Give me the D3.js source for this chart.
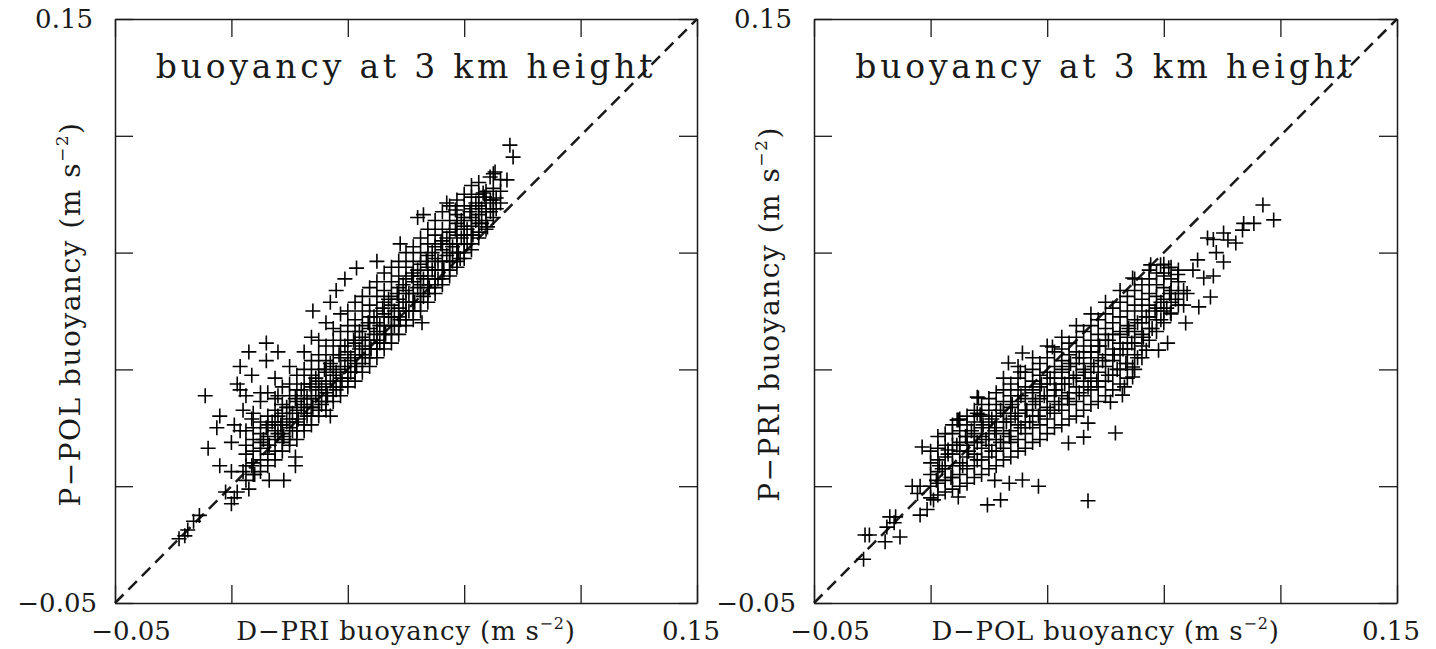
<!DOCTYPE html>
<html>
<head>
<meta charset="utf-8">
<script src="https://cdn.jsdelivr.net/npm/d3@7/dist/d3.min.js"></script>
<style>
  html, body { margin: 0; padding: 0; background: #fff; }
  svg { display: block; }
  text { font-family: "DejaVu Serif", serif; fill: #1a1a1a; }
</style>
</head>
<body>
<svg id="chart" width="1436" height="649"></svg>
<script>
// ---------------- data ----------------
const domainMin = -0.05, domainMax = 0.15;
const tickValues = [-0.05, -0.01, 0.03, 0.07, 0.11, 0.15];
const endTickLabels = ["\u22120.05", "0.15"];
const titleText = "buoyancy at 3 km height";
const xLabels = ["D\u2212PRI buoyancy (m s", "D\u2212POL buoyancy (m s"];
const yLabels = ["P\u2212POL buoyancy (m s", "P\u2212PRI buoyancy (m s"];
const unitExponent = "\u22122";

// Left panel: D-PRI (x) vs P-POL (y)
const leftSparse = [
  [-0.028,-0.028],[-0.026,-0.027],[-0.025,-0.025],[-0.023,-0.022],[-0.021,-0.020],[-0.019,0.021],
  [-0.018,0.003],[-0.015,0.010],[-0.014,0.014],[-0.014,-0.003],[-0.012,-0.012],[-0.010,-0.016],
  [-0.009,-0.014],[-0.008,-0.012],[-0.010,-0.005],[-0.010,0.005],[-0.009,0.011],[-0.008,0.025],
  [-0.007,0.023],[-0.007,0.031],[-0.007,0.009],[-0.006,0.016],[-0.006,-0.005],[-0.005,0.021],
  [-0.004,0.036],[-0.004,-0.011],[-0.003,0.028],[-0.003,-0.003],[-0.003,0.013],[-0.002,-0.006],
  [0.000,0.022],[0.002,0.039],[0.002,0.033],[0.006,0.036],[0.006,0.021],[0.003,-0.008],
  [0.008,-0.008],[0.012,0.000],[0.012,-0.003],[0.024,0.014],[0.018,0.050],[0.024,0.053],
  [0.026,0.057],[0.029,0.061],[0.033,0.0647],[0.040,0.067],[0.048,0.073],[0.054,0.082],[0.056,0.083]
];
const leftBand = [
  [-0.005,[-0.008,-0.003,0.001,0.004,0.009]],
  [-0.0025,[-0.006,-0.002,0.002,0.006,0.010,0.015]],
  [0.000,[-0.005,-0.001,0.003,0.005,0.008,0.012,0.019]],
  [0.0025,[-0.003,0.001,0.004,0.007,0.011,0.014,0.022]],
  [0.005,[-0.001,0.002,0.006,0.009,0.012,0.016,0.020,0.027]],
  [0.0075,[0.002,0.005,0.008,0.011,0.015,0.018,0.024]],
  [0.010,[0.004,0.006,0.010,0.013,0.017,0.021,0.025,0.031]],
  [0.0125,[0.006,0.009,0.012,0.016,0.019,0.023,0.028]],
  [0.015,[0.009,0.011,0.015,0.018,0.021,0.025,0.030,0.036]],
  [0.0175,[0.011,0.014,0.017,0.020,0.024,0.028,0.033,0.041]],
  [0.020,[0.014,0.016,0.019,0.023,0.026,0.030,0.035,0.040]],
  [0.0225,[0.016,0.019,0.022,0.025,0.029,0.033,0.038,0.046]],
  [0.025,[0.019,0.021,0.024,0.028,0.031,0.035,0.040,0.044]],
  [0.0275,[0.021,0.024,0.027,0.030,0.034,0.038,0.043,0.049]],
  [0.030,[0.024,0.027,0.029,0.033,0.036,0.040,0.045,0.050]],
  [0.0325,[0.026,0.029,0.032,0.035,0.039,0.043,0.047,0.053]],
  [0.035,[0.029,0.032,0.035,0.038,0.041,0.045,0.050,0.055]],
  [0.0375,[0.031,0.034,0.037,0.040,0.044,0.048,0.052,0.058]],
  [0.040,[0.034,0.037,0.040,0.043,0.046,0.050,0.055,0.060]],
  [0.0425,[0.037,0.039,0.042,0.045,0.049,0.053,0.057,0.063]],
  [0.045,[0.039,0.042,0.045,0.048,0.052,0.055,0.060,0.065]],
  [0.0475,[0.042,0.045,0.048,0.051,0.054,0.058,0.062,0.067]],
  [0.050,[0.045,0.047,0.050,0.053,0.057,0.061,0.065,0.070]],
  [0.0525,[0.047,0.050,0.053,0.056,0.060,0.063,0.067,0.072]],
  [0.055,[0.050,0.053,0.056,0.059,0.062,0.066,0.070,0.075]],
  [0.0575,[0.053,0.056,0.059,0.062,0.065,0.069,0.073,0.078]],
  [0.060,[0.056,0.058,0.061,0.064,0.068,0.072,0.076,0.081]],
  [0.0625,[0.059,0.061,0.064,0.067,0.071,0.074,0.078,0.084]],
  [0.065,[0.062,0.064,0.067,0.070,0.073,0.077,0.081,0.086]],
  [0.0675,[0.065,0.067,0.070,0.073,0.076,0.080,0.083,0.088]],
  [0.070,[0.068,0.070,0.073,0.076,0.079,0.082,0.086,0.090]],
  [0.0725,[0.071,0.073,0.076,0.079,0.082,0.085,0.089,0.093]],
  [0.075,[0.075,0.077,0.080,0.083,0.086,0.090,0.094]],
  [0.0775,[0.078,0.081,0.084,0.087,0.091]],
  [0.080,[0.082,0.085,0.088,0.092,0.097]],
  [0.0825,[0.087,0.091,0.095]]
];
const leftCore = [
  [0.001,0.006],[0.002,0.010],[0.003,0.004],[0.004,0.012],[0.006,0.008],[0.006,0.014],[0.007,0.011],
  [0.008,0.007],[0.009,0.017],[0.009,0.012],[0.011,0.009],[0.011,0.015],[0.012,0.020],[0.013,0.013],
  [0.014,0.017],[0.014,0.023],[0.016,0.014],[0.016,0.020],[0.017,0.025],[0.018,0.017],[0.019,0.021],
  [0.019,0.027],[0.021,0.018],[0.021,0.024],[0.022,0.030],[0.023,0.021],[0.024,0.026],[0.024,0.032],
  [0.026,0.023],[0.026,0.029],[0.027,0.035],[0.028,0.026],[0.029,0.031],[0.029,0.038],[0.031,0.029],
  [0.031,0.034],[0.032,0.040],[0.033,0.031],[0.034,0.037],[0.034,0.043],[0.036,0.034],[0.036,0.040],
  [0.037,0.046],[0.038,0.037],[0.039,0.042],[0.039,0.048],[0.041,0.039],[0.041,0.045],[0.042,0.051],
  [0.043,0.042],[0.044,0.048],[0.044,0.054],[0.046,0.045],[0.046,0.050],[0.047,0.056],[0.048,0.047],
  [0.049,0.053],[0.049,0.059],[0.051,0.050],[0.051,0.056],[0.052,0.062],[0.053,0.053],[0.054,0.058],
  [0.054,0.064],[0.056,0.055],[0.056,0.061],[0.057,0.067],[0.058,0.058],[0.059,0.064],[0.059,0.070],
  [0.061,0.061],[0.061,0.067],[0.062,0.073],[0.063,0.064],[0.064,0.069],[0.064,0.075],[0.066,0.067],
  [0.066,0.072],[0.067,0.078],[0.068,0.070],[0.069,0.075],[0.069,0.081],[0.071,0.073],[0.071,0.078],
  [0.072,0.084],[0.073,0.076],[0.074,0.081],[0.074,0.087],[0.076,0.080],[0.076,0.085],[0.077,0.089],
  [0.079,0.084],[0.079,0.088]
];
const leftTail = [
  [0.0857,0.1068],[0.0868,0.1027],[0.0806,0.0976],[0.0789,0.0959],[0.0847,0.0949],[0.081,0.0887],
  [0.081,0.085],[0.078,0.0788],[0.0686,0.068],[0.0555,0.046],[0.064,0.087],[0.067,0.0846],[0.0765,0.0904]
];

// Right panel: D-POL (x) vs P-PRI (y)
const rightSparse = [
  [-0.033,-0.035],[-0.0325,-0.0267],[-0.031,-0.0267],[-0.0256,-0.029],[-0.0205,-0.0274],[-0.025,-0.024],
  [-0.024,-0.0205],[-0.022,-0.0205],[-0.0225,-0.0225],[-0.0136,-0.0199],[-0.0112,-0.018],[-0.0163,-0.010],
  [-0.0136,-0.010],[-0.0145,-0.0125],[-0.009,-0.0147],[-0.008,-0.008],[-0.0129,0.0034],[-0.0009,0.0127],
  [0.006,0.0205],[0.006,0.015],[0.0095,-0.0164],[0.014,-0.0147],[-0.0005,-0.0137],[-0.004,0.0024],
  [-0.007,-0.003],[0.0215,-0.0079],[0.027,-0.010],[0.017,-0.009],[0.012,-0.008],[0.044,-0.015]
];
const rightBand = [
  [-0.010,[-0.014,-0.010,-0.006,-0.002,0.002]],
  [-0.0075,[-0.013,-0.009,-0.005,-0.001,0.003,0.007]],
  [-0.005,[-0.012,-0.008,-0.004,0.000,0.004,0.008]],
  [-0.0025,[-0.011,-0.007,-0.003,0.001,0.004,0.008,0.011]],
  [0.000,[-0.010,-0.006,-0.002,0.002,0.005,0.009,0.013]],
  [0.0025,[-0.009,-0.004,0.000,0.004,0.007,0.011,0.014]],
  [0.005,[-0.007,-0.003,0.001,0.005,0.008,0.012,0.016]],
  [0.0075,[-0.006,-0.001,0.003,0.007,0.010,0.014,0.018]],
  [0.010,[-0.004,0.000,0.004,0.008,0.012,0.016,0.020]],
  [0.0125,[-0.003,0.002,0.006,0.010,0.014,0.018,0.022]],
  [0.015,[-0.001,0.003,0.008,0.012,0.015,0.019,0.023,0.027]],
  [0.0175,[0.000,0.005,0.009,0.013,0.017,0.021,0.025]],
  [0.020,[0.002,0.006,0.011,0.015,0.019,0.023,0.027,0.031]],
  [0.0225,[0.003,0.008,0.012,0.016,0.020,0.024,0.029]],
  [0.025,[0.005,0.010,0.014,0.018,0.022,0.026,0.030,0.034]],
  [0.0275,[0.006,0.011,0.016,0.020,0.024,0.028,0.032]],
  [0.030,[0.008,0.013,0.017,0.021,0.025,0.029,0.034,0.038]],
  [0.0325,[0.010,0.015,0.019,0.023,0.027,0.031,0.036]],
  [0.035,[0.011,0.016,0.021,0.025,0.029,0.033,0.037,0.041]],
  [0.0375,[0.013,0.018,0.022,0.027,0.031,0.035,0.039]],
  [0.040,[0.014,0.019,0.024,0.028,0.032,0.036,0.041,0.045]],
  [0.0425,[0.016,0.021,0.026,0.030,0.034,0.038,0.043]],
  [0.045,[0.018,0.023,0.027,0.032,0.036,0.040,0.045,0.049]],
  [0.0475,[0.019,0.024,0.029,0.034,0.038,0.042,0.047]],
  [0.050,[0.021,0.026,0.031,0.035,0.040,0.044,0.049,0.053]],
  [0.0525,[0.023,0.028,0.033,0.037,0.042,0.046,0.051]],
  [0.055,[0.025,0.030,0.035,0.039,0.043,0.048,0.053,0.057]],
  [0.0575,[0.027,0.032,0.037,0.041,0.045,0.050,0.055]],
  [0.060,[0.030,0.035,0.039,0.043,0.047,0.052,0.057,0.061]],
  [0.0625,[0.034,0.038,0.042,0.046,0.050,0.054,0.059]],
  [0.065,[0.040,0.044,0.048,0.052,0.056,0.061,0.064]],
  [0.0675,[0.043,0.047,0.051,0.055,0.059,0.063]],
  [0.070,[0.046,0.050,0.054,0.058,0.062,0.066]],
  [0.0725,[0.049,0.053,0.057,0.061,0.065]],
  [0.075,[0.052,0.056,0.060,0.064]]
];
const rightCore = [
  [-0.006,-0.004],[-0.004,0.001],[-0.003,-0.007],[-0.001,0.004],[0.001,-0.003],[0.002,0.007],[0.003,0.002],
  [0.004,0.009],[0.006,0.005],[0.006,-0.001],[0.008,0.011],[0.009,0.006],[0.011,0.002],[0.011,0.013],
  [0.012,0.009],[0.014,0.005],[0.014,0.016],[0.016,0.012],[0.017,0.007],[0.018,0.018],[0.019,0.014],
  [0.021,0.010],[0.021,0.021],[0.023,0.016],[0.024,0.012],[0.025,0.023],[0.026,0.019],[0.027,0.014],
  [0.028,0.025],[0.029,0.021],[0.031,0.016],[0.031,0.027],[0.033,0.023],[0.034,0.018],[0.035,0.030],
  [0.036,0.025],[0.037,0.020],[0.038,0.032],[0.039,0.027],[0.041,0.022],[0.041,0.034],[0.043,0.029],
  [0.044,0.024],[0.045,0.036],[0.046,0.031],[0.047,0.026],[0.048,0.038],[0.049,0.033],[0.051,0.028],
  [0.051,0.040],[0.053,0.035],[0.054,0.030],[0.055,0.042],[0.056,0.037],[0.057,0.032],[0.058,0.044],
  [0.059,0.039],[0.061,0.034],[0.061,0.046],[0.063,0.041],[0.064,0.048],[0.066,0.044],[0.067,0.050],
  [0.069,0.047],[0.069,0.053],[0.071,0.051],[0.072,0.056],[0.074,0.054]
];
const rightTail = [
  [0.104,0.0863],[0.1077,0.0812],[0.1009,0.080],[0.0974,0.080],[0.097,0.0777],[0.0905,0.0767],
  [0.092,0.0743],[0.085,0.075],[0.087,0.0745],[0.0947,0.0733],[0.0905,0.0668],[0.088,0.070],
  [0.0816,0.0675],[0.080,0.064],[0.0837,0.0613],[0.087,0.062],[0.086,0.0548],[0.082,0.0514],
  [0.0768,0.057],[0.078,0.056],[0.0768,0.052],[0.0723,0.0493],[0.0775,0.0459],[0.0689,0.0658],
  [0.0655,0.0658],[0.0717,0.0648],[0.070,0.063],[0.0748,0.0625],[0.0593,0.0613],[0.0713,0.039],
  [0.0682,0.0366],[0.064,0.0366],[0.0593,0.0308],[0.0593,0.0274],[0.0565,0.024],[0.0558,0.0212],
  [0.0517,0.0188],[0.0534,0.0082],[0.044,0.0116],[0.0425,0.0068],[0.0373,0.0048],[0.0318,0.0377],
  [0.0215,0.0356],[0.0167,0.0322],[0.0208,0.0291],[0.0064,0.0202],[0.007,0.0145],[-0.0005,0.0127]
];

// ---------------- drawing ----------------
function flattenBand(band) {
  const out = [];
  band.forEach(([x, ys]) => ys.forEach(y => out.push([x, y])));
  return out;
}
const leftPoints = leftSparse.concat(flattenBand(leftBand), leftCore, leftTail);
const rightPoints = rightSparse.concat(flattenBand(rightBand), rightCore, rightTail);

const panels = [
  { left: 115, right: 697, points: leftPoints, xLabel: xLabels[0], yLabel: yLabels[0] },
  { left: 814, right: 1397, points: rightPoints, xLabel: xLabels[1], yLabel: yLabels[1] }
];
const plotTop = 19, plotBottom = 603;
const svg = d3.select("#chart");
const ink = "#1a1a1a";

panels.forEach(p => {
  const x = d3.scaleLinear().domain([domainMin, domainMax]).range([p.left, p.right]);
  const y = d3.scaleLinear().domain([domainMin, domainMax]).range([plotBottom, plotTop]);
  const g = svg.append("g");

  const styleAxis = sel => {
    sel.selectAll("path.domain").attr("stroke", ink).attr("stroke-width", 1.5);
    sel.selectAll(".tick line").attr("stroke", ink).attr("stroke-width", 1.3);
    sel.selectAll(".tick text").remove();
  };
  g.append("g").attr("transform", `translate(0,${plotBottom})`)
    .call(d3.axisBottom(x).tickValues(tickValues).tickSizeInner(-18).tickSizeOuter(0).tickFormat(() => ""))
    .call(styleAxis);
  g.append("g").attr("transform", `translate(0,${plotTop})`)
    .call(d3.axisTop(x).tickValues(tickValues).tickSizeInner(-18).tickSizeOuter(0).tickFormat(() => ""))
    .call(styleAxis);
  g.append("g").attr("transform", `translate(${p.left},0)`)
    .call(d3.axisLeft(y).tickValues(tickValues).tickSizeInner(-18).tickSizeOuter(0).tickFormat(() => ""))
    .call(styleAxis);
  g.append("g").attr("transform", `translate(${p.right},0)`)
    .call(d3.axisRight(y).tickValues(tickValues).tickSizeInner(-18).tickSizeOuter(0).tickFormat(() => ""))
    .call(styleAxis);

  // diagonal 1:1 dashed line
  g.append("line")
    .attr("x1", x(domainMin)).attr("y1", y(domainMin))
    .attr("x2", x(domainMax)).attr("y2", y(domainMax))
    .attr("stroke", ink).attr("stroke-width", 2.5).attr("stroke-dasharray", "12,7");

  // crosses
  const arm = 7.5;
  g.append("g").selectAll("path").data(p.points).join("path")
    .attr("d", d => {
      const cx = x(d[0]), cy = y(d[1]);
      return `M${cx - arm},${cy}H${cx + arm}M${cx},${cy - arm}V${cy + arm}`;
    })
    .attr("stroke", "#000").attr("stroke-width", 1.6).attr("fill", "none");

  // title
  g.append("text")
    .attr("x", (p.left + p.right) / 2).attr("y", 78)
    .attr("text-anchor", "middle")
    .style("font-size", "33px").style("letter-spacing", "3.8px")
    .text(titleText);

  // tick labels (end values only)
  const tickFont = "26px";
  g.append("text").attr("x", x(domainMin) + 16).attr("y", 640).attr("text-anchor", "middle")
    .style("font-size", tickFont).text(endTickLabels[0]);
  g.append("text").attr("x", x(domainMax) - 6).attr("y", 640).attr("text-anchor", "middle")
    .style("font-size", tickFont).text(endTickLabels[1]);
  g.append("text").attr("x", p.left - 22).attr("y", y(domainMax) + 9).attr("text-anchor", "end")
    .style("font-size", tickFont).text(endTickLabels[1]);
  g.append("text").attr("x", p.left - 18).attr("y", y(domainMin) + 9).attr("text-anchor", "end")
    .style("font-size", tickFont).text(endTickLabels[0]);

  // axis labels
  const xl = g.append("text").attr("x", (p.left + p.right) / 2).attr("y", 640)
    .attr("text-anchor", "middle").style("font-size", "26px").style("letter-spacing", "0.8px");
  xl.append("tspan").text(p.xLabel);
  xl.append("tspan").attr("dy", -11).style("font-size", "16px").text(unitExponent);
  xl.append("tspan").attr("dy", 11).text(")");

  const cy = (plotTop + plotBottom) / 2 + 3;
  const yl = g.append("text")
    .attr("transform", `translate(${p.left - 35},${cy}) rotate(-90)`)
    .attr("text-anchor", "middle").style("font-size", "28px").style("letter-spacing", "1.5px");
  yl.append("tspan").text(p.yLabel);
  yl.append("tspan").attr("dy", -12).style("font-size", "17px").text(unitExponent);
  yl.append("tspan").attr("dy", 12).text(")");
});
</script>
</body>
</html>
